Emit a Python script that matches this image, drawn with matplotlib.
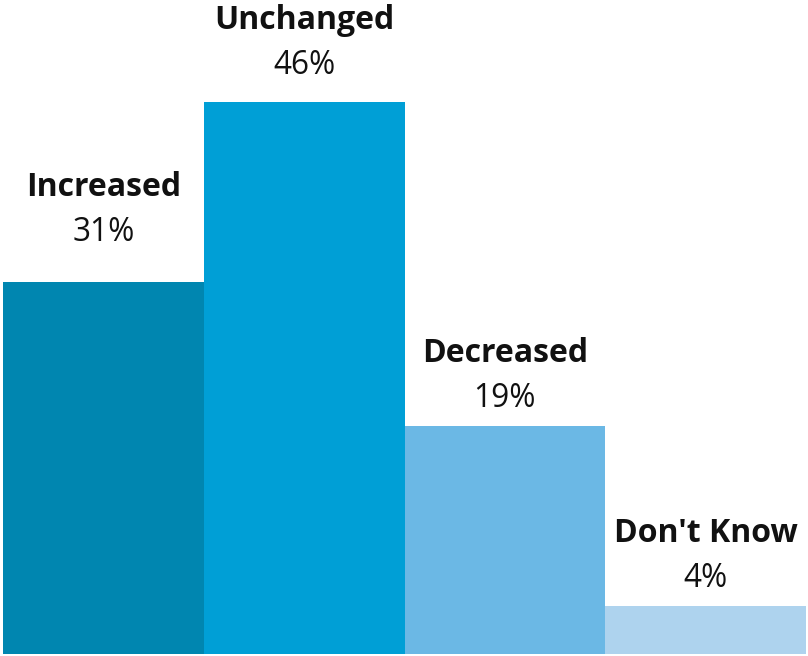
import matplotlib
matplotlib.use("Agg")
import matplotlib.pyplot as plt

categories = ["Increased", "Unchanged", "Decreased", "Don't Know"]
values = [31, 46, 19, 4]
colors = ["#0086B0", "#009FD6", "#6BB8E5", "#AED3EE"]
label_gap_px = [41, 28, 19, 19]

W, H = 808, 656
fig = plt.figure(figsize=(W / 100, H / 100), dpi=100)
ax = fig.add_axes([3 / W, 2 / H, 803 / W, 654 / H])
ax.bar(range(len(values)), values, width=1.0, color=colors, align="center")
ax.set_xlim(-0.5, len(values) - 0.5)
ax.set_ylim(0, 654 / 12)
ax.axis("off")

for i, (c, v) in enumerate(zip(categories, values)):
    gap = label_gap_px[i] * 72 / 100
    ax.annotate(f"{v}%", (i, v), xytext=(0, gap), textcoords="offset points",
                ha="center", va="baseline", fontsize=22.8, family="Open Sans",
                color="#111111", annotation_clip=False)
    ax.annotate(c, (i, v), xytext=(0, gap + 45 * 0.72), textcoords="offset points",
                ha="center", va="baseline", fontsize=23, family="Open Sans",
                fontweight="bold", color="#111111", annotation_clip=False)

fig.savefig("out.png", dpi=100)
